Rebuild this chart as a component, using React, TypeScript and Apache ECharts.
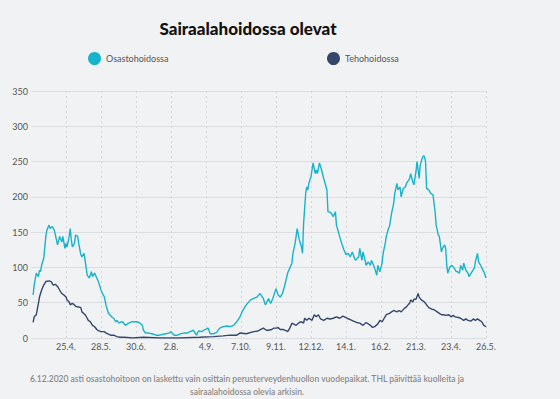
import React, { useEffect, useRef } from "react";
import * as echarts from "echarts";

// Day numbers counted from 23.3.2020 (day 0)
const START_DATE = Date.UTC(2020, 2, 23);

const seriesNames = ["Osastohoidossa", "Tehohoidossa"];

const osastoDays = [2,3,5,7,8,9,10,12,14,15,17,18,20,22,24,25,27,29,30,32,33,34,36,37,38,39,41,42,44,45,47,48,50,51,53,54,55,57,58,60,62,63,65,66,68,69,71,73,76,78,80,81,83,85,87,89,92,95,99,102,105,106,108,111,114,118,121,124,127,130,132,133,135,138,141,144,147,150,153,156,158,161,164,167,169,172,175,178,181,185,188,191,194,197,200,203,207,210,213,216,219,221,224,226,228,231,233,235,237,239,242,244,246,247,249,251,253,255,256,257,259,260,261,262,264,266,268,269,270,272,274,276,279,280,282,283,285,287,288,291,293,295,297,299,301,303,305,306,309,310,312,313,315,316,318,320,321,323,324,326,327,329,331,332,334,335,337,338,340,342,343,345,346,348,349,351,353,354,357,358,360,361,363,364,366,367,369,370,371,372,373,375,377,379,381,382,384,385,387,388,390,391,392,393,395,397,399,401,402,404,405,407,408,410,412,413,415,418,419,421,422,424,426,427,429];
const osastoValues = [61,75,92,87,96,94,103,113,144,153,160,155,158,153,139,132,144,136,144,127,134,129,144,155,139,129,134,146,144,134,118,115,120,110,89,87,85,94,87,92,85,82,73,68,61,59,45,35,30,28,23,25,21,23,22,18,21,23,23,22,18,11,7,7,6,4,4,5,6,7,9,7,4,4,6,7,7,9,11,4,10,9,12,14,6,6,8,14,16,17,16,18,23,30,40,47,54,56,58,63,56,47,56,49,56,70,61,58,63,73,92,99,106,120,134,155,139,129,120,162,205,214,210,219,229,248,233,238,233,248,238,226,210,179,178,177,172,179,160,144,134,125,118,120,115,122,113,110,115,127,110,122,110,103,108,103,110,103,99,89,103,94,106,120,134,144,155,158,177,191,205,219,210,214,200,212,214,219,226,233,221,217,236,250,226,245,255,258,257,250,212,210,205,203,179,160,146,144,122,127,132,127,103,92,101,103,99,94,94,92,103,96,106,96,92,87,92,99,108,120,108,103,96,94,85];

const tehoDays = [2,3,5,7,8,10,12,14,17,19,21,23,25,27,29,31,33,34,36,37,39,41,42,44,45,47,48,51,53,54,56,58,60,62,64,66,69,71,75,78,81,84,88,96,106,122,140,159,172,181,188,194,197,203,210,214,219,222,224,227,229,232,233,235,238,241,242,244,246,250,253,255,257,258,260,262,265,267,269,271,273,276,279,282,285,288,291,294,298,301,304,307,310,313,316,320,322,324,327,329,331,333,335,338,340,342,345,347,349,352,354,356,357,358,360,361,363,365,366,368,371,373,375,378,380,383,385,387,389,391,394,396,398,400,403,405,408,410,412,415,417,419,421,423,425,427,429];
const tehoValues = [22,30,33,49,58,68,75,80,81,80,75,76,73,68,63,61,58,54,51,47,49,47,45,44,44,43,37,33,28,25,23,18,16,12,10,9,9,7,4,4,2,1,1,0,1,0,0,1,2,3,4,4,7,6,9,10,14,11,11,12,14,14,15,12,12,10,9,14,21,18,22,23,21,28,25,28,25,33,30,33,27,25,28,27,28,30,28,31,28,26,24,22,21,18,22,18,15,16,20,25,23,28,33,35,37,39,37,39,37,42,44,48,49,54,51,55,55,63,58,54,51,47,43,41,40,37,35,33,33,32,33,30,32,30,29,28,25,27,25,24,27,25,27,25,23,18,16];

const titleText = "Sairaalahoidossa olevat";
const footnoteText =
  "6.12.2020 asti osastohoitoon on laskettu vain osittain perusterveydenhuollon vuodepaikat. THL päivittää kuolleita ja\nsairaalahoidossa olevia arkisin.";

const colors = ["#16b4ca", "#34476b"];
const FONT = "Lato, 'Open Sans', sans-serif";

function dayLabel(day: number): string {
  const d = new Date(START_DATE + day * 86400000);
  return d.getUTCDate() + "." + (d.getUTCMonth() + 1) + ".";
}

export default function App() {
  const ref = useRef<HTMLDivElement>(null);
  useEffect(() => {
    document.body.style.margin = "0";
    const chart = echarts.init(ref.current!, null, { renderer: "svg" });
    chart.setOption({
      animation: false,
      backgroundColor: "#f1f2f4",
      color: colors,
      title: [
        {
          text: titleText,
          left: 243,
          top: 15,
          textAlign: "center",
          textStyle: { fontFamily: FONT, fontSize: 17, fontWeight: 900, color: "#111" },
        },
        {
          text: footnoteText,
          left: 242,
          top: 368,
          textAlign: "center",
          textStyle: {
            fontFamily: FONT,
            fontSize: 8.5,
            fontWeight: 600,
            color: "#8a8a8a",
            lineHeight: 12.5,
          },
        },
      ],
      legend: [
        {
          data: [seriesNames[0]],
          left: 88,
          top: 52,
          padding: 0,
          icon: "circle",
          itemWidth: 13,
          itemHeight: 13,
          itemGap: 5,
          textStyle: { fontFamily: FONT, fontSize: 9, color: "#555" },
        },
        {
          data: [seriesNames[1]],
          left: 327,
          top: 52,
          padding: 0,
          icon: "circle",
          itemWidth: 13,
          itemHeight: 13,
          itemGap: 5,
          textStyle: { fontFamily: FONT, fontSize: 9, color: "#555" },
        },
      ],
      grid: { left: 31, right: 74, top: 91, bottom: 61, containLabel: false },
      xAxis: {
        type: "value",
        min: 0,
        max: 429,
        interval: 33,
        axisLine: { show: false },
        axisTick: { show: false },
        axisLabel: {
          fontFamily: FONT,
          fontSize: 9,
          color: "#555",
          margin: 4,
          showMinLabel: false,
          formatter: (v: number) => (v === 0 ? "" : dayLabel(v)),
        },
        splitLine: {
          show: true,
          showMinLine: false,
          lineStyle: { color: "#d6d7da", type: [2, 3], width: 1 },
        },
      },
      yAxis: {
        type: "value",
        min: 0,
        max: 350,
        interval: 50,
        axisLine: { show: false },
        axisTick: { show: false },
        axisLabel: { fontFamily: FONT, fontSize: 9, color: "#555", margin: 3 },
        splitLine: { lineStyle: { color: "#dcdde0", width: 1 } },
      },
      series: [
        {
          name: seriesNames[1],
          type: "line",
          showSymbol: false,
          data: tehoDays.map((d, i) => [d, tehoValues[i]]),
          lineStyle: { width: 1.4, color: colors[1] },
          itemStyle: { color: colors[1] },
        },
        {
          name: seriesNames[0],
          type: "line",
          showSymbol: false,
          data: osastoDays.map((d, i) => [d, osastoValues[i]]),
          lineStyle: { width: 1.4, color: colors[0] },
          itemStyle: { color: colors[0] },
        },
      ],
    });
    return () => chart.dispose();
  }, []);
  return <div ref={ref} style={{ width: 560, height: 399 }} />;
}
